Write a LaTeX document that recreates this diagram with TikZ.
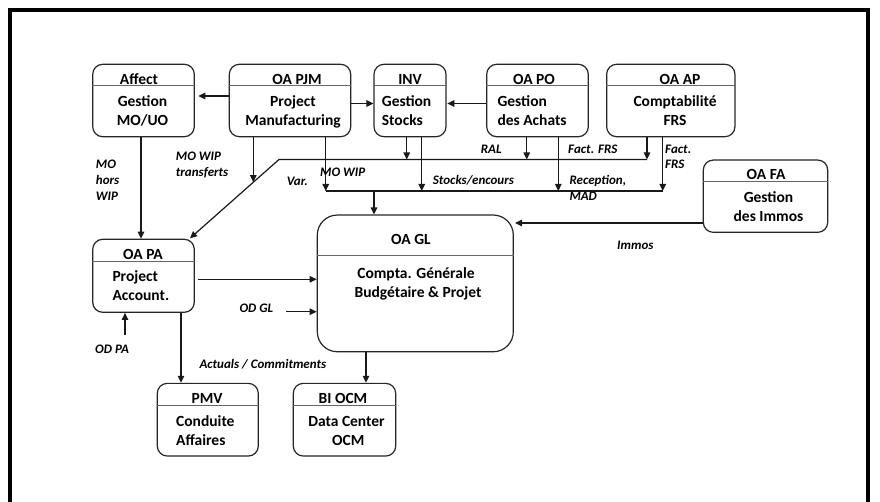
\documentclass[tikz,border=0pt]{standalone}
\usepackage{fontspec}
\setmainfont{Carlito}
\usetikzlibrary{arrows.meta}
\tikzset{
  box/.style={draw=black!85, line width=1.2pt, rounded corners=10pt, inner sep=0pt},
  bigbox/.style={box, rounded corners=20pt},
  hdr/.style={draw=black!60, line width=1pt},
  bt/.style={font=\fontsize{15.5}{19}\selectfont\bfseries, inner sep=0pt, anchor=base},
  btl/.style={bt, anchor=base west},
  lbl/.style={font=\fontsize{13}{15.5}\selectfont\bfseries\itshape, inner sep=0pt, anchor=base west},
  conn/.style={line width=1.2pt, draw=black!90},
  arr/.style={conn, -{Triangle[length=7pt,width=6.5pt]}},
  frame/.style={line width=4pt, draw=black}
}
\begin{document}
\begin{tikzpicture}[x=1pt,y=-1pt]
\useasboundingbox (0,0) rectangle (880,502);
\draw[frame] (10,515) -- (10,10) -- (868,10) -- (868,515);

% ---- boxes ----
\node[box, minimum width=101.6pt, minimum height=72.4pt] (aff) at (143.5,100.5) {};
\node[box, minimum width=121.4pt, minimum height=72.4pt] (pjm) at (290,100.5) {};
\node[box, minimum width=72pt, minimum height=72.4pt] (inv) at (410,100.5) {};
\node[box, minimum width=101.6pt, minimum height=72.4pt] (po) at (537.5,100.5) {};
\node[box, minimum width=128.3pt, minimum height=72.4pt] (ap) at (670.8,100.5) {};
\node[box, minimum width=124.4pt, minimum height=72.3pt] (fa) at (765.5,196.2) {};
\node[box, minimum width=101.6pt, minimum height=73pt] (pa) at (143.5,275.8) {};
\node[bigbox, minimum width=196pt, minimum height=136.7pt] (gl) at (415.3,283.4) {};
\node[box, minimum width=101pt, minimum height=72.7pt] (pmv) at (207.8,419.7) {};
\node[box, minimum width=102.4pt, minimum height=72.7pt] (bi) at (344.5,419.7) {};

% ---- header lines ----
\draw[hdr] (aff.west |- 0,86) -- (aff.east |- 0,86);
\draw[hdr] (pjm.west |- 0,86) -- (pjm.east |- 0,86);
\draw[hdr] (inv.west |- 0,86) -- (inv.east |- 0,86);
\draw[hdr] (po.west |- 0,86) -- (po.east |- 0,86);
\draw[hdr] (ap.west |- 0,86) -- (ap.east |- 0,86);
\draw[hdr] (fa.west |- 0,181.7) -- (fa.east |- 0,181.7);
\draw[hdr] (pa.west |- 0,261.7) -- (pa.east |- 0,261.7);
\draw[hdr] (gl.west |- 0,256) -- (gl.east |- 0,256);
\draw[hdr] (pmv.west |- 0,405) -- (pmv.east |- 0,405);
\draw[hdr] (bi.west |- 0,405) -- (bi.east |- 0,405);

% ---- header texts ----
\node[bt] (afft) at (139,84.3) {Affect};
\node[bt] (pjmt) at (297,84.3) {OA PJM};
\node[bt] (invt) at (410,84.3) {INV};
\node[bt] (pot) at (534,84.3) {OA PO};
\node[bt] (apt) at (680,84.3) {OA AP};
\node[bt] (fat) at (766,179.5) {OA FA};
\node[bt] (pat) at (143,260) {OA PA};
\node[bt] (glt) at (411,245) {OA GL};
\node[bt] (pmvt) at (207,403.3) {PMV};
\node[bt] (bit) at (343,403.3) {BI OCM};

% ---- body texts ----
\node[bt] (aff1) at (142.5,106.7) {Gestion};
\node[bt] (aff2) at (142.5,125.7) {MO/UO};
\node[bt] (pjm1) at (293,106.7) {Project};
\node[bt] (pjm2) at (293,125.7) {Manufacturing};
\node[btl] (inv1) at (381.7,106.7) {Gestion};
\node[btl] (inv2) at (381.7,125.7) {Stocks};
\node[btl] (po1) at (497.3,106.7) {Gestion};
\node[btl] (po2) at (497.3,125.7) {des Achats};
\node[bt] (ap1) at (675,106.7) {Comptabilité};
\node[bt] (ap2) at (675,125.7) {FRS};
\node[bt] (fa1) at (768.5,202.5) {Gestion};
\node[bt] (fa2) at (768.5,221.5) {des Immos};
\node[btl] (pa1) at (112.3,282) {Project};
\node[btl] (pa2) at (112.3,301) {Account.};
\node[bt] (gl1) at (416,278.3) {Compta. Générale};
\node[bt] (gl2) at (418,297.3) {Budgétaire \& Projet};
\node[btl] (pmv1) at (176,426) {Conduite};
\node[btl] (pmv2) at (176,445.5) {Affaires};
\node[bt] (bi1) at (346.5,426) {Data Center};
\node[bt] (bi2) at (348.3,445.5) {OCM};

% ---- bus coordinates ----
\coordinate (b1) at (279,159.5);
\coordinate (b2) at (647,159.5);
\coordinate (patip) at (190,238.3);
\coordinate (dj) at (253.3,182.2);
\coordinate (c1) at (325.7,191);
\coordinate (c2) at (662.7,191);
\coordinate (cgl) at (374,191);
\coordinate (odgl) at (286,311.7);
\coordinate (odpa) at (125,335);

% ---- connectors, top row ----
\draw[arr] (pjm.west |- 0,96) -- (198.3,96);
\draw[arr] (pjm.east |- 0,103.5) -- (inv.west |- 0,103.5);
\draw[arr] (po.west |- 0,103.5) -- (447.3,103.5);

% Affect -> PA
\draw[arr] (aff.south -| 141,0) -- (pa.north -| 141,0);

% upper bus to PA
\draw[arr] (b2) -- (b1) -- (patip);
\draw[arr] (pjm.south -| dj) -- (dj);
\draw[arr] (inv.south -| 406.7,0) -- (406.7,159.5);
\draw[arr] (po.south -| 526.7,0) -- (526.7,159.5);
\draw[arr] (ap.south -| b2) -- (b2);

% lower bus to GL
\draw[conn] (c1) -- (c2);
\draw[arr] (pjm.south -| c1) -- (c1);
\draw[arr] (inv.south -| 421.7,0) -- (421.7,191);
\draw[arr] (po.south -| 558.3,0) -- (558.3,191);
\draw[arr] (ap.south -| c2) -- (c2);
\draw[arr] (cgl) -- (gl.north -| cgl);

% FA -> GL
\draw[arr] (fa.west |- 0,223) -- (515,223);

% PA -> GL, OD GL
\draw[arr] (197.7,279.3) -- (gl.west |- 0,279.3);
\draw[arr] (odgl) -- (gl.west |- odgl);
% OD PA
\draw[arr] (odpa) -- (pa.south -| odpa);
% PA -> PMV, GL -> BI
\draw[arr] (pa.south -| 181,0) -- (pmv.north -| 181,0);
\draw[arr] (gl.south -| 366,0) -- (bi.north -| 366,0);

% ---- labels ----
\node[lbl] (l1) at (95.7,169) {MO};
\node[lbl] (l2) at (95.7,185) {hors};
\node[lbl] (l3) at (95.7,201) {WIP};
\node[lbl] (l4) at (175.7,161) {MO WIP};
\node[lbl] (l5) at (175.7,176.5) {transferts};
\node[lbl] (l6) at (286.7,185.7) {Var.};
\node[lbl] (l7) at (320,176.5) {MO WIP};
\node[lbl] (l8) at (480.7,153.3) {RAL};
\node[lbl] (l9) at (568,153.3) {Fact. FRS};
\node[lbl] (l10) at (665,153.3) {Fact.};
\node[lbl] (l11) at (665,169) {FRS};
\node[lbl] (l12) at (432.7,185) {Stocks/encours};
\node[lbl] (l13) at (569.3,185) {Reception,};
\node[lbl] (l14) at (569.3,200.7) {MAD};
\node[lbl] (l15) at (617,249.5) {Immos};
\node[lbl] (l16) at (239.3,312.7) {OD GL};
\node[lbl] (l17) at (95,353) {OD PA};
\node[lbl] (l18) at (199.3,368.5) {Actuals / Commitments};
\end{tikzpicture}
\end{document}
